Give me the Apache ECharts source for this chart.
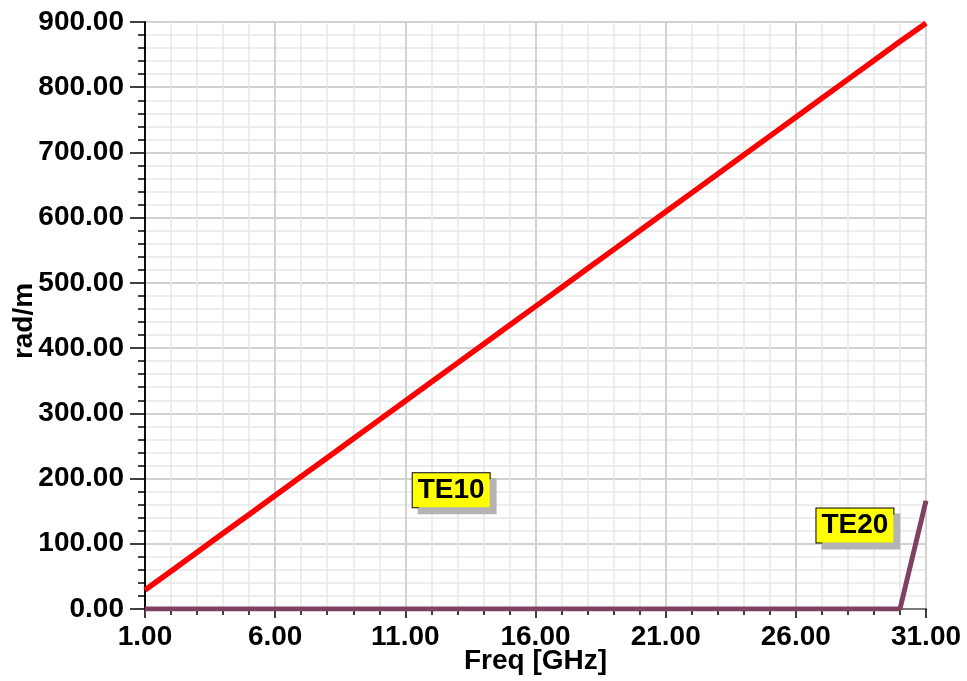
<!DOCTYPE html>
<html>
<head>
<meta charset="utf-8">
<script src="https://cdn.jsdelivr.net/npm/echarts@6/dist/echarts.min.js"></script>
<style>html,body{margin:0;padding:0;background:#fff}#c{width:967px;height:681px}</style>
</head>
<body>
<div id="c"></div>
<script>
const freqGHz = [1,2,3,4,5,6,7,8,9,10,11,12,13,14,15,16,17,18,19,20,21,22,23,24,25,26,27,28,29,30,31];
const te10 = [29,58,87,116,145,174,203,232,261,290,319,348,377,406,435,464,493,522,551,580,609,638,667,696,725,754,783,812,841,870,898];
const te20 = [0,0,0,0,0,0,0,0,0,0,0,0,0,0,0,0,0,0,0,0,0,0,0,0,0,0,0,0,0,0,166];
const xTickLabels = ['1.00','6.00','11.00','16.00','21.00','26.00','31.00'];
const seriesNames = ['TE10','TE20'];
const labelAnchors = [[12.76,182],[28.27,128]];

const F0 = freqGHz[0];
const font = '"Liberation Sans", Arial, sans-serif';
const chart = echarts.init(document.getElementById('c'));
const labelStyle = {
  show: true, position: 'inside', fontFamily: font, fontWeight: 'bold', fontSize: 28,
  color: '#000', backgroundColor: '#ffff00', borderColor: '#000', borderWidth: 1,
  padding: [4, 5, 2, 5], shadowColor: '#b4b4b4', shadowOffsetX: 6, shadowOffsetY: 6, shadowBlur: 0
};
function mk(i){
  return {data:[{coord:[labelAnchors[i][0]-F0, labelAnchors[i][1]], value: seriesNames[i]}],
    symbol:'rect', symbolSize:0, silent:true,
    label: Object.assign({}, labelStyle, {formatter: seriesNames[i]})};
}
chart.setOption({
  animation:false,
  grid:{left:145,right:41,top:22,bottom:72,show:false,containLabel:false,outerBoundsMode:'none'},
  xAxis:[{
    type:'value', min:0, max:30, interval:5,
    axisLine:{show:true,onZero:false,lineStyle:{color:'#000',width:1.5}},
    axisTick:{show:true,inside:false,length:9,lineStyle:{color:'#000',width:1.5}},
    minorTick:{show:true,splitNumber:5,length:6,lineStyle:{color:'#000',width:1.5}},
    splitLine:{show:true,lineStyle:{color:'#d2d2d2',width:2}},
    minorSplitLine:{show:true,lineStyle:{color:'#e8e8e8',width:1.5}},
    axisLabel:{margin:14,fontFamily:font,fontWeight:'bold',fontSize:28,color:'#000',
      formatter:(v)=>xTickLabels[Math.round(v/5)]},
    name:'Freq [GHz]', nameLocation:'middle', nameGap:38, nameMoveOverlap:false,
    nameTextStyle:{fontFamily:font,fontWeight:'bold',fontSize:28,color:'#000'}
  },{
    type:'value', position:'top', min:0, max:30,
    axisLine:{show:true,lineStyle:{color:'#7a7a7a',width:2}},
    axisTick:{show:false}, axisLabel:{show:false}, splitLine:{show:false}
  }],
  yAxis:[{
    type:'value', min:0, max:900, interval:100,
    axisLine:{show:true,onZero:false,lineStyle:{color:'#000',width:1.5}},
    axisTick:{show:true,length:15,lineStyle:{color:'#000',width:1.5}},
    minorTick:{show:true,splitNumber:5,length:7,lineStyle:{color:'#000',width:1.5}},
    splitLine:{show:true,lineStyle:{color:'#d2d2d2',width:2}},
    minorSplitLine:{show:true,lineStyle:{color:'#e8e8e8',width:1.5}},
    axisLabel:{margin:21,fontFamily:font,fontWeight:'bold',fontSize:28,color:'#000',
      formatter:(v)=>v.toFixed(2)},
    name:'rad/m', nameLocation:'middle', nameGap:107, nameRotate:90, nameMoveOverlap:false,
    nameTextStyle:{fontFamily:font,fontWeight:'bold',fontSize:28,color:'#000',padding:[0,11,0,0]}
  },{
    type:'value', position:'right', min:0, max:900,
    axisLine:{show:true,lineStyle:{color:'#000',width:1.5}},
    axisTick:{show:false}, axisLabel:{show:false}, splitLine:{show:false}
  }],
  series:[
    {name:seriesNames[0], type:'line', showSymbol:false, symbol:'none',
      lineStyle:{color:'#ff0000',width:5.5}, z:3,
      data: freqGHz.map((f,i)=>[f-F0, te10[i]]), markPoint: mk(0)},
    {name:seriesNames[1], type:'line', showSymbol:false, symbol:'none',
      lineStyle:{color:'#804060',width:5}, z:4,
      data: freqGHz.map((f,i)=>[f-F0, te20[i]]), markPoint: mk(1)}
  ]
});
</script>
</body>
</html>
